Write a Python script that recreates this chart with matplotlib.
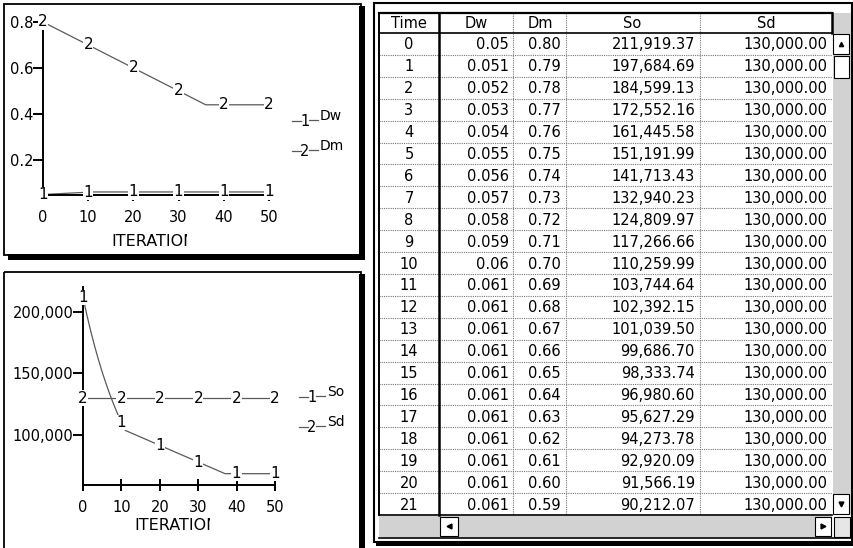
import matplotlib.pyplot as plt
from matplotlib.patches import Rectangle
from matplotlib.ticker import FuncFormatter

# simulation output, iteration 0..50 (0..21 from the table, the rest)
iteration = list(range(51))
dw = [0.05, 0.051, 0.052, 0.053, 0.054, 0.055, 0.056, 0.057, 0.058, 0.059, 0.06,
      0.061, 0.061, 0.061, 0.061, 0.061, 0.061, 0.061, 0.061, 0.061, 0.061, 0.061,
      0.061, 0.061, 0.061, 0.061, 0.061, 0.061, 0.061, 0.061, 0.061, 0.061, 0.061,
      0.061, 0.061, 0.061, 0.061, 0.061, 0.061, 0.061, 0.061, 0.061, 0.061, 0.061,
      0.061, 0.061, 0.061, 0.061, 0.061, 0.061, 0.061]
dm = [0.80, 0.79, 0.78, 0.77, 0.76, 0.75, 0.74, 0.73, 0.72, 0.71, 0.70,
      0.69, 0.68, 0.67, 0.66, 0.65, 0.64, 0.63, 0.62, 0.61, 0.60, 0.59,
      0.58, 0.57, 0.56, 0.55, 0.54, 0.53, 0.52, 0.51, 0.50, 0.49, 0.48,
      0.47, 0.46, 0.45, 0.44, 0.44, 0.44, 0.44, 0.44, 0.44, 0.44, 0.44,
      0.44, 0.44, 0.44, 0.44, 0.44, 0.44, 0.44]
so = [211919.37, 197684.69, 184599.13, 172552.16, 161445.58, 151191.99, 141713.43,
      132940.23, 124809.97, 117266.66, 110259.99, 103744.64, 102392.15, 101039.50,
      99686.70, 98333.74, 96980.60, 95627.29, 94273.78, 92920.09, 91566.19, 90212.07,
      88858, 87504, 86150, 84796, 83442, 82088, 80734, 79380, 78026, 76672, 75318,
      73964, 72610, 71256, 69902, 68548, 68548, 68548, 68548, 68548, 68548, 68548,
      68548, 68548, 68548, 68548, 68548, 68548, 68548]
sd = [130000.00] * 51

n_rows = 22  # rows visible in the table window
col_names = ["Time", "Dw", "Dm", "So", "Sd"]

W, H = 854, 548
fig = plt.figure(figsize=(W / 100, H / 100), dpi=100)

ov = fig.add_axes([0, 0, 1, 1], zorder=0)
ov.set_xlim(0, W)
ov.set_ylim(H, 0)
ov.axis("off")


def px_axes(l, t, r, b):
    return fig.add_axes([l / W, 1 - b / H, (r - l) / W, (b - t) / H], zorder=2)


def box(x, y, w, h, **kw):
    ov.add_patch(Rectangle((x, y), w, h, **kw))


line_col = "#5a5a5a"

# ---- panel frames ----
box(4, 4, 357, 251, fill=False, ec="black", lw=1.3)
box(359, 6, 6, 254, fc="black", ec="none")
box(8, 254, 357, 6, fc="black", ec="none")
box(4, 272, 357, 280, fill=False, ec="black", lw=1.3)
box(359, 274, 6, 280, fc="black", ec="none")
box(374, 3, 478, 539, fill=False, ec="black", lw=1.5)
box(376, 541, 478, 5, fc="black", ec="none")


def chart(ax, ys, names, ylim, yticks, fmt, xlab_x, xlab_y, clip_x, leg_x, leg_y):
    ax.set_facecolor("none")
    for i, y in enumerate(ys):
        ax.plot(iteration, y, color=line_col, lw=0.9, zorder=2)
        for t in iteration[::10]:
            ax.text(t, y[t], str(i + 1), ha="center", va="center", fontsize=11,
                    zorder=3, bbox=dict(fc="white", ec="none", pad=0.2))
    ax.set_xlim(0, 50)
    ax.set_ylim(*ylim)
    ax.set_xticks(range(0, 51, 10))
    ax.set_yticks(yticks)
    ax.yaxis.set_major_formatter(FuncFormatter(fmt))
    for s in ["top", "right"]:
        ax.spines[s].set_visible(False)
    ax.spines["left"].set_linewidth(1.4)
    ax.spines["bottom"].set_linewidth(1.4)
    ax.tick_params(axis="x", direction="inout", length=9, width=1.4, labelsize=10.5, pad=6)
    ax.tick_params(axis="y", direction="out", length=7, width=1.4, labelsize=10.5, pad=0)
    ax.tick_params(colors="black")
    # axis title, cut off by the window edge like in the original
    ov.text(xlab_x, xlab_y, "ITERATION", fontsize=11.5, ha="left", va="center", zorder=1)
    box(clip_x, xlab_y - 10, 25, 20, fc="white", ec="none", zorder=3)
    # legend
    for i, nm in enumerate(names):
        yy = leg_y + i * 30
        ov.plot([leg_x, leg_x + 9], [yy, yy], color=line_col, lw=0.9)
        ov.plot([leg_x + 17, leg_x + 26], [yy - 1, yy - 1], color=line_col, lw=0.9)
        ov.text(leg_x + 13, yy + 1, str(i + 1), fontsize=10.5, ha="center", va="center")
        ov.text(leg_x + 28, yy - 5, nm, fontsize=10, ha="left", va="center")


ax1 = px_axes(43, 19, 269, 195)
chart(ax1, [dw, dm], ["Dw", "Dm"], (0.0478, 0.813), [0.2, 0.4, 0.6, 0.8],
      lambda v, p: f"{v:.1f}", 111, 242, 187, 292, 121)

ax2 = px_axes(83, 287, 275, 485)
chart(ax2, [so, sd], ["So", "Sd"], (59350, 220300), [100000, 150000, 200000],
      lambda v, p: f"{v:,.0f}", 134, 526, 210, 299, 397)

# ---- table window ----
tx0, tx1 = 379, 832
top, head_b = 13, 33
row_h = (515 - head_b) / n_rows
bounds = [379, 439, 513, 566, 700, 832]
fs = 10.5

box(tx0, top, tx1 - tx0, 515 - top, fc="white", ec="none")
for i in range(1, n_rows):
    y = head_b + i * row_h
    ov.plot([tx0, tx1], [y, y], color="#777777", lw=0.8, ls=(0, (1, 1)))
for x in bounds[2:5]:
    ov.plot([x, x], [top, 515], color="#777777", lw=0.8, ls=(0, (1, 1)))
ov.plot([tx0, tx1], [top, top], color="black", lw=1.6)
ov.plot([tx0, tx1], [head_b, head_b], color="black", lw=1.2)
ov.plot([tx0, tx0], [top, 515], color="black", lw=1.4)
ov.plot([439, 439], [top, 515], color="black", lw=1.8)
ov.plot([tx1, tx1], [top, head_b], color="black", lw=1.8)
ov.plot([tx0, tx1], [515, 515], color="black", lw=1.2)

head_x = [409, 476, 540, 632, 766]
for nm, x in zip(col_names, head_x):
    ov.text(x, (top + head_b) / 2 + 1, nm, fontsize=fs, ha="center", va="center")

for r in range(n_rows):
    yc = head_b + (r + 0.5) * row_h + 1
    ov.text(409, yc, str(iteration[r]), fontsize=fs, ha="center", va="center")
    ov.text(509, yc, f"{dw[r]:g}", fontsize=fs, ha="right", va="center")
    ov.text(561, yc, f"{dm[r]:.2f}", fontsize=fs, ha="right", va="center")
    ov.text(695, yc, f"{so[r]:,.2f}", fontsize=fs, ha="right", va="center")
    ov.text(827, yc, f"{sd[r]:,.2f}", fontsize=fs, ha="right", va="center")

# scroll bars
gray = "#d2d2d2"
box(833, 13, 18, 502, fc=gray, ec="none")
box(833, 34, 16, 20, fc="white", ec="black", lw=0.8)
ov.plot(841, 44, marker="^", ms=3, color="black")
box(834, 56, 15, 22, fc="white", ec="black", lw=0.8)
box(833, 494, 16, 20, fc="white", ec="black", lw=0.8)
ov.plot(841, 504, marker="v", ms=3.5, color="black")
box(tx0, 516, tx1 - tx0, 21, fc=gray, ec="none")
box(440, 517, 18, 19, fc="white", ec="black", lw=0.8)
ov.plot(449, 526, marker="<", ms=3.5, color="black")
box(815, 517, 16, 19, fc="white", ec="black", lw=0.8)
ov.plot(823, 526, marker=">", ms=3.5, color="black")
box(834, 517, 16, 20, fc="#e6e6e6", ec="black", lw=0.8)
ov.plot([tx0, 852], [538, 538], color="black", lw=1.2)

fig.savefig("out.png", dpi=100)
